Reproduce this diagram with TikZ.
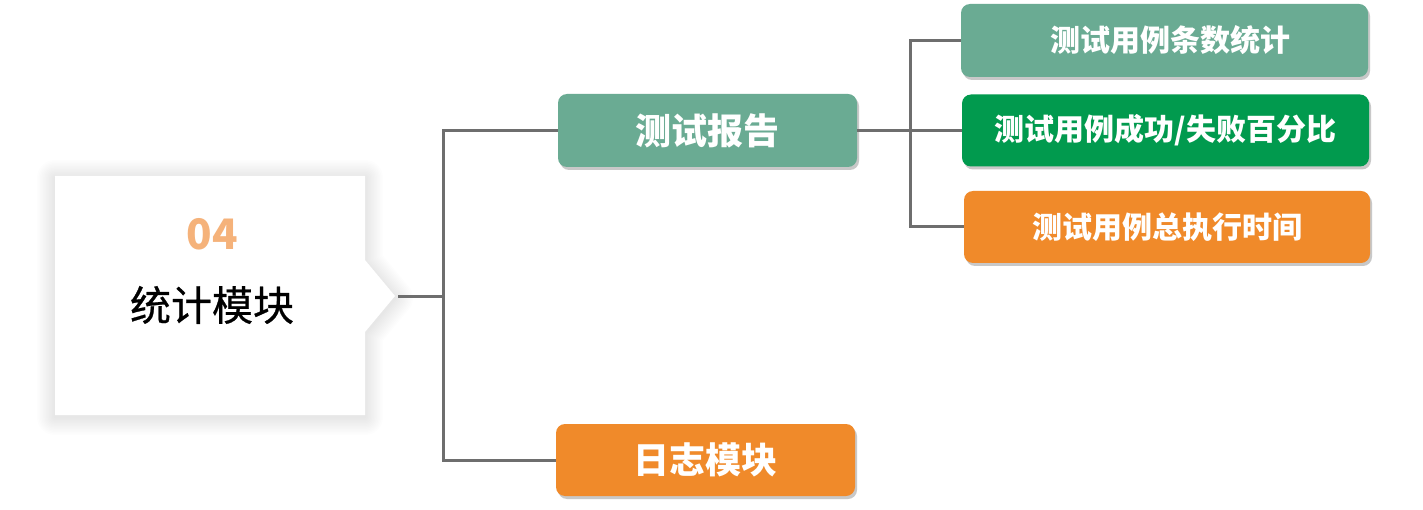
\documentclass[tikz,border=0pt]{standalone}
\usepackage{fontspec}
\setmainfont{Noto Sans CJK SC}
\usetikzlibrary{shadows}
\definecolor{cteal}{HTML}{6AAB93}
\definecolor{cgreen}{HTML}{019A4E}
\definecolor{corange}{HTML}{F08A2A}
\definecolor{cline}{HTML}{6E6E6E}
\definecolor{cnum}{HTML}{F5B27A}
\begin{document}
\begin{tikzpicture}[x=1pt,y=-1pt,
  box/.style={rounded corners=9pt, inner sep=0pt, text=white,
    drop shadow={shadow xshift=2pt, shadow yshift=-3pt, opacity=0.3, fill=black!70}},
  midbox/.style={box, minimum width=299pt, minimum height=73pt, font=\bfseries\fontsize{36}{36}\selectfont},
  rbox/.style={box, minimum width=407pt, minimum height=72pt, font=\bfseries\fontsize{30}{30}\selectfont},
  conn/.style={draw=cline, line width=3pt}]
\fill[white] (0,0) rectangle (1423,510);
\useasboundingbox (0,0) rectangle (1423,510);
% left card with soft halo
\foreach \w in {3,6,...,36}{
  \draw[black, opacity=0.009, line width=\w pt, line join=round]
    (55,178) -- (365,178) -- (365,262) -- (395,298) -- (365,334) -- (365,417) -- (55,417) -- cycle;
}
\fill[white]
  (55,176) -- (365,176) -- (365,260) -- (395,296) -- (365,332) -- (365,415) -- (55,415) -- cycle;
\node[text=cnum, font=\bfseries\fontsize{42}{42}\selectfont] (num) at (212,234) {04};
\node[font=\fontsize{41}{41}\selectfont] (title) at (212,305) {\addfontfeature{FakeBold=0.6}统计模块};
\coordinate (tip) at (398,297);
\coordinate (bus1) at (443,297);
% middle boxes
\node[midbox, fill=cteal] (report) at (707.5,130.5) {测试报告};
\node[midbox, fill=corange, minimum height=72pt] (log) at (705.5,460) {日志模块};
% right boxes
\node[rbox, fill=cteal, minimum height=73pt, text width=407pt, align=center] (b1) at (1164.5,40.5) {\hspace*{12pt}测试用例条数统计};
\node[rbox, fill=cgreen] (b2) at (1165.5,130.5) {测试用例成功/失败百分比};
\node[rbox, fill=corange, minimum width=406pt] (b3) at (1167,227) {测试用例总执行时间};
\coordinate (bus2) at (910,130.5);
% connectors
\draw[conn] (tip) -- (bus1);
\draw[conn] (report.west) -| (bus1);
\draw[conn] (bus1) |- (log.west);
\draw[conn] (report.east) -- (bus2);
\draw[conn] (b1.west) -| (bus2);
\draw[conn] (bus2) |- (b3.west);
\draw[conn] (bus2) -- (b2.west);
\end{tikzpicture}
\end{document}
